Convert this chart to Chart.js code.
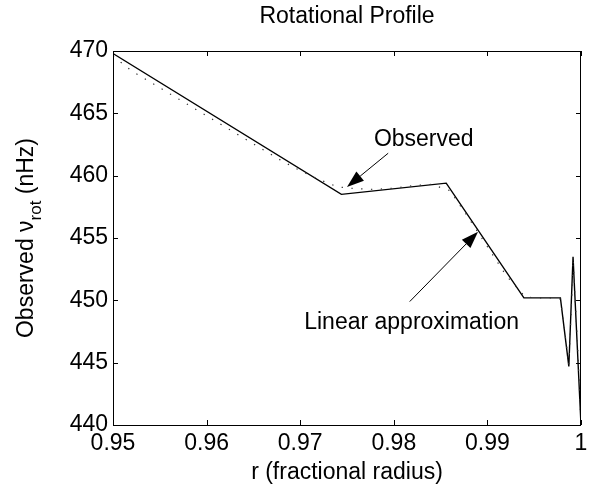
<!DOCTYPE html>
<html>
<head>
<meta charset="utf-8">
<script src="https://cdn.jsdelivr.net/npm/chart.js@4"></script>
<style>
  html, body { margin: 0; padding: 0; background: #fff; }
  #wrap { width: 591px; height: 489px; }
</style>
</head>
<body>
<div id="wrap"><canvas id="chart" width="591" height="489"></canvas></div>
<script>
// piecewise linear approximation (solid line)
const fitRadius = [0.95, 0.9744, 0.9856, 0.9939, 0.9978, 0.9987, 0.99915, 1.0];
const fitRot = [469.8, 458.5, 459.4, 450.2, 450.2, 444.7, 453.5, 440];

// observed profile (dotted line)
const obsRadius = [0.950, 0.952, 0.954, 0.956, 0.958, 0.960, 0.962, 0.964, 0.966, 0.968,
  0.970, 0.972, 0.974, 0.976, 0.978, 0.980, 0.982, 0.984, 0.986, 0.988,
  0.990, 0.992, 0.994, 0.995, 0.996, 0.997, 0.9978, 0.9983, 0.9987, 0.9990,
  0.99915, 0.9996, 1.000];
const obsRot = [469.6, 468.4, 467.5, 466.6, 465.7, 464.8, 463.9, 463.0, 462.1, 461.2,
  460.4, 459.7, 459.1, 458.95, 458.9, 459.0, 459.2, 459.3, 458.8, 456.6,
  454.3, 452.0, 450.3, 450.2, 450.2, 450.2, 450.1, 447.3, 444.8, 450.0,
  453.3, 447.0, 440.0];

const xTicks = [0.95, 0.96, 0.97, 0.98, 0.99, 1];
const yTicks = [440, 445, 450, 455, 460, 465, 470];

// text labels with arrows, in data units
const notes = [
  { text: 'Observed', at: [0.9832, 462.9], from: [0.9794, 461.8], to: [0.9750, 459.1] },
  { text: 'Linear approximation', at: [0.9819, 448.2], from: [0.9817, 449.9], to: [0.9890, 455.5] },
];

const FONT = '"Liberation Sans", Arial, sans-serif';

function toPoints(xs, ys) {
  return xs.map((x, i) => ({ x, y: ys[i] }));
}

function arrow(ctx, x1, y1, x2, y2) {
  const ang = Math.atan2(y2 - y1, x2 - x1);
  const len = 17, half = 6;
  const bx = x2 - len * Math.cos(ang), by = y2 - len * Math.sin(ang);
  ctx.beginPath();
  ctx.moveTo(x1, y1);
  ctx.lineTo(bx, by);
  ctx.stroke();
  ctx.beginPath();
  ctx.moveTo(x2, y2);
  ctx.lineTo(bx + half * Math.sin(ang), by - half * Math.cos(ang));
  ctx.lineTo(bx - half * Math.sin(ang), by + half * Math.cos(ang));
  ctx.closePath();
  ctx.fill();
}

const frame = {
  id: 'frame',
  afterDraw(chart) {
    const { ctx, chartArea: a, scales: { x, y } } = chart;
    ctx.save();
    ctx.strokeStyle = '#000';
    ctx.fillStyle = '#000';
    ctx.lineWidth = 1;

    // box
    ctx.strokeRect(a.left + 0.5, a.top + 0.5, a.right - a.left - 1, a.bottom - a.top);

    // inward ticks on all four sides
    ctx.beginPath();
    xTicks.forEach((v) => {
      const px = Math.round(x.getPixelForValue(v)) + 0.5;
      ctx.moveTo(px, a.bottom);
      ctx.lineTo(px, a.bottom - 5);
      ctx.moveTo(px, a.top);
      ctx.lineTo(px, a.top + 5);
    });
    yTicks.forEach((v) => {
      const py = Math.round(y.getPixelForValue(v)) + 0.5;
      ctx.moveTo(a.left, py);
      ctx.lineTo(a.left + 5, py);
      ctx.moveTo(a.right, py);
      ctx.lineTo(a.right - 5, py);
    });
    ctx.stroke();

    // title and x label
    ctx.textAlign = 'center';
    ctx.textBaseline = 'middle';
    ctx.font = '23px ' + FONT;
    ctx.fillText('Rotational Profile', (a.left + a.right) / 2, 17);
    ctx.font = '23px ' + FONT;
    ctx.fillText('r (fractional radius)', (a.left + a.right) / 2, 473);

    // y label with subscript
    ctx.save();
    ctx.translate(33, (a.top + a.bottom) / 2);
    ctx.rotate(-Math.PI / 2);
    ctx.textAlign = 'left';
    ctx.textBaseline = 'alphabetic';
    const parts = [
      { t: 'Observed ν', f: '23px ' + FONT, dy: 0 },
      { t: 'rot', f: '17px ' + FONT, dy: 8 },
      { t: ' (nHz)', f: '23px ' + FONT, dy: 0 },
    ];
    let total = 0;
    parts.forEach((p) => { ctx.font = p.f; p.w = ctx.measureText(p.t).width; total += p.w; });
    let cx = -total / 2;
    parts.forEach((p) => { ctx.font = p.f; ctx.fillText(p.t, cx, p.dy); cx += p.w; });
    ctx.restore();

    // annotations
    ctx.font = '23px ' + FONT;
    ctx.textAlign = 'center';
    ctx.textBaseline = 'middle';
    notes.forEach((n) => {
      ctx.fillText(n.text, x.getPixelForValue(n.at[0]), y.getPixelForValue(n.at[1]));
      arrow(ctx,
        x.getPixelForValue(n.from[0]), y.getPixelForValue(n.from[1]),
        x.getPixelForValue(n.to[0]), y.getPixelForValue(n.to[1]));
    });
    ctx.restore();
  },
};

new Chart(document.getElementById('chart'), {
  type: 'line',
  data: {
    datasets: [
      {
        label: 'Observed',
        data: toPoints(obsRadius, obsRot),
        borderColor: '#333',
        borderWidth: 1.2,
        borderDash: [1.3, 8.5],
        pointRadius: 0,
        tension: 0,
      },
      {
        label: 'Linear approximation',
        data: toPoints(fitRadius, fitRot),
        borderColor: '#000',
        borderWidth: 1.4,
        pointRadius: 0,
        tension: 0,
      },
    ],
  },
  options: {
    responsive: false,
    animation: false,
    layout: { padding: { left: 0, right: 10, top: 51, bottom: 0 } },
    plugins: { legend: { display: false }, tooltip: { enabled: false } },
    scales: {
      x: {
        type: 'linear',
        min: 0.95,
        max: 1,
        grid: { display: false, drawTicks: false },
        border: { display: false },
        afterBuildTicks: (s) => { s.ticks = xTicks.map((v) => ({ value: v })); },
        afterFit: (s) => { s.height = 64; s.paddingLeft = 0; s.paddingRight = 0; },
        ticks: {
          color: '#000',
          font: { family: FONT, size: 23 },
          padding: 5,
          maxRotation: 0,
          callback: (v) => String(Number(v.toFixed(2))),
        },
      },
      y: {
        min: 440,
        max: 470,
        grid: { display: false, drawTicks: false },
        border: { display: false },
        afterBuildTicks: (s) => { s.ticks = yTicks.map((v) => ({ value: v })); },
        afterFit: (s) => { s.width = 113; s.paddingTop = 0; s.paddingBottom = 0; },
        ticks: {
          color: '#000',
          font: { family: FONT, size: 23 },
          padding: 5,
        },
      },
    },
  },
  plugins: [frame],
});
</script>
</body>
</html>
